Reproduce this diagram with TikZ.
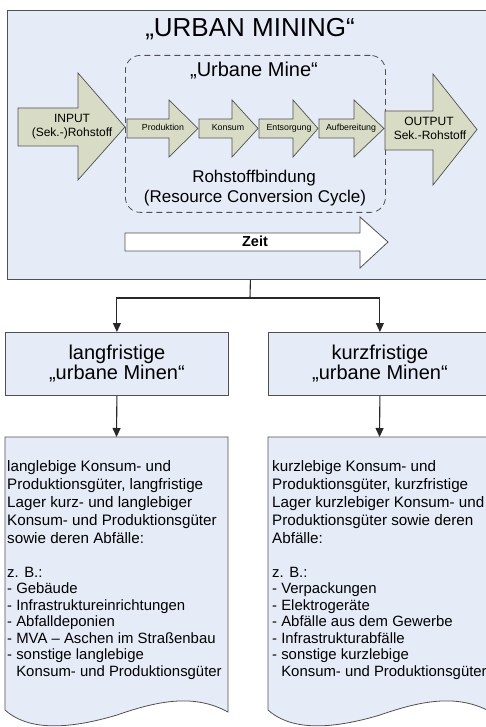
\documentclass[tikz,border=0pt]{standalone}
\usepackage{fontspec}
\setmainfont{Liberation Sans}
\usetikzlibrary{arrows.meta}
\definecolor{boxfill}{RGB}{230,236,247}
\definecolor{arrfill}{RGB}{217,220,197}
\definecolor{edge}{RGB}{80,80,80}
\definecolor{lineblack}{RGB}{40,40,40}
\newcommand{\smallarr}[3]{%
  \draw[arrowshape] (#1,119) -- (#2,119) -- (#2,100) -- (#3,128.5) -- (#2,157) -- (#2,138) -- (#1,138) -- cycle;}
\begin{document}
\begin{tikzpicture}[x=1pt,y=-1pt,
  panel/.style={draw=edge, fill=boxfill, line width=0.8pt},
  arrowshape/.style={draw=edge, fill=arrfill, line width=0.7pt},
  conn/.style={draw=lineblack, line width=1.1pt, -{Triangle[width=8pt,length=9pt]}},
  lbl/.style={inner sep=0pt, anchor=base},
  doctxt/.style={inner sep=0pt, anchor=base west, font=\fontsize{15.2}{18}\selectfont},
  listtxt/.style={inner sep=0pt, anchor=base west, font=\fontsize{14.9}{16.5}\selectfont}]
\useasboundingbox (0,0) rectangle (486,727);
\clip (0,0) rectangle (486,727);

% top panel
\node[panel, minimum width=486pt, minimum height=269pt, anchor=north west, inner sep=0pt] (top) at (7,10) {};
\node[lbl, font=\fontsize{26}{30}\selectfont] (title) at (250,37) {„URBAN MINING“};

% dashed urban mine box
\node[draw=edge, dash pattern=on 6pt off 4pt, line width=0.8pt, rounded corners=15pt,
      minimum width=260pt, minimum height=157pt, anchor=north west, inner sep=0pt] (mine) at (125,55) {};
\node[lbl, font=\fontsize{20}{24}\selectfont] (minetitle) at (254,77) {„Urbane Mine“};

% input / output arrows
\draw[arrowshape] (18,108) -- (78,108) -- (78,73) -- (125,127) -- (78,180) -- (78,146) -- (18,146) -- cycle;
\node[lbl, font=\fontsize{12}{14}\selectfont] (inp1) at (72,123) {INPUT};
\node[lbl, font=\fontsize{12}{14}\selectfont] (inp2) at (72,137) {(Sek.-)Rohstoff};

\draw[arrowshape] (385,111) -- (433,111) -- (433,74) -- (477,129.5) -- (433,185) -- (433,150) -- (385,150) -- cycle;
\node[lbl, font=\fontsize{12}{14}\selectfont] (out1) at (429,126) {OUTPUT};
\node[lbl, font=\fontsize{12}{14}\selectfont] (out2) at (430,140) {Sek.-Rohstoff};

% cycle arrows
\smallarr{127}{169}{198}
\smallarr{199}{232}{258}
\smallarr{259}{293}{318}
\smallarr{319}{354}{384}
\node[lbl, font=\fontsize{8.8}{10}\selectfont] (p1) at (163,131) {Produktion};
\node[lbl, font=\fontsize{8.8}{10}\selectfont] (p2) at (228,131) {Konsum};
\node[lbl, font=\fontsize{8.8}{10}\selectfont] (p3) at (289,131) {Entsorgung};
\node[lbl, font=\fontsize{8.8}{10}\selectfont] (p4) at (351,131) {Aufbereitung};

\node[lbl, font=\fontsize{17}{20}\selectfont] (bind1) at (254,183) {Rohstoffbindung};
\node[lbl, font=\fontsize{17}{20}\selectfont] (bind2) at (255,203) {(Resource Conversion Cycle)};

% time arrow
\draw[draw=edge, fill=white, line width=0.8pt] (125,233) -- (360,233) -- (360,217) -- (388,242) -- (360,268) -- (360,251) -- (125,251) -- cycle;
\node[lbl, font=\fontsize{14.5}{16}\selectfont\bfseries] (zeit) at (255,246) {Zeit};

% middle boxes
\node[panel, minimum width=223pt, minimum height=63pt, anchor=north west, align=center,
      font=\fontsize{20}{20}\selectfont] (lang) at (5,332) {langfristige\\„urbane Minen“};
\node[panel, minimum width=223pt, minimum height=63pt, anchor=north west, align=center,
      font=\fontsize{20}{20}\selectfont] (kurz) at (268,332) {kurzfristige\\„urbane Minen“};

% connectors
\coordinate (split) at (250,298);
\draw[draw=lineblack, line width=1.1pt] (top.south) -- (split);
\draw[conn] (split) -| (lang.north);
\draw[conn] (split) -| (kurz.north);

% document shapes
\draw[panel] (5,437) -- (5,710) .. controls (25,728) and (60,732) .. (117,715)
  .. controls (160,700) and (195,694) .. (228,712) -- (228,437) -- cycle;
\coordinate (doc1) at (116.5,437);
\draw[panel] (268,437) -- (268,710) .. controls (288,728) and (323,732) .. (380,715)
  .. controls (423,700) and (458,694) .. (491,712) -- (491,437) -- cycle;
\coordinate (doc2) at (379.5,437);
\draw[conn] (lang.south) -- (doc1);
\draw[conn] (kurz.south) -- (doc2);

% document texts
\foreach \t [count=\i] in {{langlebige Konsum- und},{Produktionsgüter, langfristige},{Lager kurz- und langlebiger},{Konsum- und Produktionsgüter},{sowie deren Abfälle:}}
  \node[doctxt] (la\i) at (7,{471+18*(\i-1)}) {\t};
\foreach \t [count=\i] in {{z. B.:},{- Gebäude},{- Infrastruktureinrichtungen},{- Abfalldeponien},{- MVA – Aschen im Straßenbau},{- sonstige langlebige},{\phantom{- }Konsum- und Produktionsgüter}}
  \node[listtxt] (lb\i) at (7,{577+16.5*(\i-1)}) {\t};

\foreach \t [count=\i] in {{kurzlebige Konsum- und},{Produktionsgüter, kurzfristige},{Lager kurzlebiger Konsum- und},{Produktionsgüter sowie deren},{Abfälle:}}
  \node[doctxt] (ka\i) at (272,{471+18*(\i-1)}) {\t};
\foreach \t [count=\i] in {{z. B.:},{- Verpackungen},{- Elektrogeräte},{- Abfälle aus dem Gewerbe},{- Infrastrukturabfälle},{- sonstige kurzlebige},{\phantom{- }Konsum- und Produktionsgüter}}
  \node[listtxt] (kb\i) at (272,{577+16.5*(\i-1)}) {\t};
\end{tikzpicture}
\end{document}
